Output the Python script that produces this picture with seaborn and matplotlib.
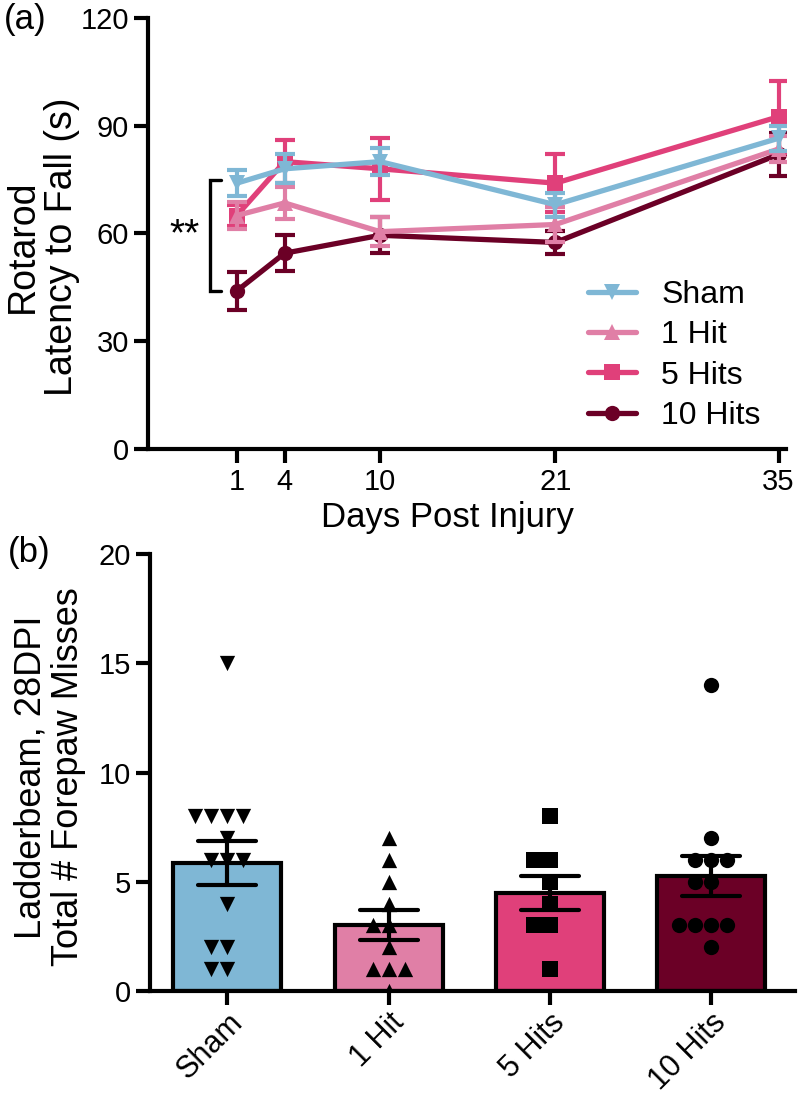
import numpy as np
import pandas as pd
import seaborn as sns
import matplotlib.pyplot as plt

# Rotarod (a): mean +/- SEM per group at each day
days = [1, 4, 10, 21, 35]
sham_mean = [74, 78, 80, 68, 86.5]
sham_sem = [3.6, 4, 3.8, 3.3, 3.5]
hit1_mean = [65, 68.5, 60.5, 62.5, 83.5]
hit1_sem = [3.8, 4.5, 4, 5, 3.5]
hit5_mean = [65, 80, 78, 74, 92.5]
hit5_sem = [3, 6, 8.6, 8, 10]
hit10_mean = [44, 54.5, 59.5, 57.5, 82]
hit10_sem = [5.3, 5, 5, 3.3, 6]

# Ladderbeam (b): individual animals
groups = ['Sham', '1 Hit', '5 Hits', '10 Hits']
sham_pts = [15, 8, 8, 8, 8, 7, 6, 6, 6, 4, 2, 2, 1, 1]
hit1_pts = [7, 6, 5, 4, 3, 3, 2, 1, 1, 1, 0]
hit5_pts = [8, 6, 6, 5, 4, 3, 3, 1]
hit10_pts = [14, 7, 6, 6, 6, 5, 5, 3, 3, 3, 3, 2]

colors = ['#7FB7D5', '#E07FA6', '#E0407A', '#6B0026']
markers = ['v', '^', 's', 'o']

sns.set_style('ticks')
plt.rcParams['font.family'] = ['Liberation Sans', 'DejaVu Sans']
plt.rcParams.update({
    'axes.linewidth': 3, 'axes.edgecolor': 'black',
    'axes.labelcolor': 'black', 'text.color': 'black',
    'xtick.color': 'black', 'ytick.color': 'black',
    'xtick.major.width': 3, 'ytick.major.width': 3,
    'xtick.major.size': 10, 'ytick.major.size': 10,
    'xtick.labelsize': 21, 'ytick.labelsize': 21,
})

fig = plt.figure(figsize=(8, 11.01), dpi=100)
ax1 = fig.add_axes([0.185, 0.5922, 0.7975, 0.3915])
ax2 = fig.add_axes([0.1875, 0.0999, 0.806, 0.3969])

# ---- (a) rotarod ----
means = [sham_mean, hit1_mean, hit5_mean, hit10_mean]
sems = [sham_sem, hit1_sem, hit5_sem, hit10_sem]
for i in [3, 2, 1, 0]:  # 10 Hits drawn first, Sham on top
    ax1.errorbar(days, means[i], yerr=sems[i], fmt='none', ecolor=colors[i],
                 elinewidth=3, capsize=7.5, capthick=3)
    sns.lineplot(x=days, y=means[i], color=colors[i], marker=markers[i],
                 markersize=11, markeredgewidth=0, linewidth=3.8,
                 label=groups[i], ax=ax1)

handles, labels = ax1.get_legend_handles_labels()
order = [labels.index(g) for g in groups]
ax1.legend([handles[k] for k in order], groups, loc='lower right',
           bbox_to_anchor=(0.985, 0.005), frameon=False, fontsize=23,
           handlelength=1.5, handletextpad=0.78, labelspacing=0.32,
           borderpad=0)

# significance bracket
ax1.plot([0, -0.7, -0.7, 0], [75, 75, 44, 44], color='black', lw=2.4,
         solid_joinstyle='miter')
ax1.text(-2.25, 59.5, '**', fontsize=28, ha='center', va='center')

ax1.set_xlim(-4.57, 35.47)
ax1.set_ylim(0, 120)
ax1.set_xticks(days)
ax1.set_yticks([0, 30, 60, 90, 120])
ax1.set_xlabel('Days Post Injury', fontsize=25)
ax1.set_ylabel('Rotarod\nLatency to Fall (s)', fontsize=27, linespacing=1.1)
ax1.xaxis.set_label_coords(0.469, -0.12)
ax1.yaxis.set_label_coords(-0.107, 0.47)
sns.despine(ax=ax1)
fig.text(0.005, 0.997, '(a)', fontsize=25, ha='left', va='top')

# ---- (b) ladderbeam ----
pts = [sham_pts, hit1_pts, hit5_pts, hit10_pts]
df = pd.DataFrame({
    'group': np.repeat(groups, [len(p) for p in pts]),
    'misses': np.concatenate(pts),
})
sns.barplot(data=df, x='group', y='misses', order=groups, hue='group',
            hue_order=groups, palette=colors, legend=False, errorbar='se',
            capsize=0.36, err_kws={'color': 'black', 'linewidth': 3},
            edgecolor='black', linewidth=3, width=0.67, saturation=1, ax=ax2)
for g, p, m in zip(groups, pts, markers):
    sns.swarmplot(x=[g] * len(p), y=p, order=groups, marker=m, color='black',
                  size=11, linewidth=0, ax=ax2)

ax2.set_xlim(-0.48, 3.52)
ax2.set_ylim(0, 20)
ax2.set_yticks([0, 5, 10, 15, 20])
ax2.set_xlabel('')
ax2.set_ylabel('Ladderbeam, 28DPI\nTotal # Forepaw Misses', fontsize=26,
               linespacing=1.1)
ax2.yaxis.set_label_coords(-0.099, 0.49)
ax2.tick_params(axis='x', labelsize=22, pad=2)
plt.setp(ax2.get_xticklabels(), rotation=45, ha='right',
         rotation_mode='anchor')
sns.despine(ax=ax2)
fig.text(0.01, 0.513, '(b)', fontsize=25, ha='left', va='top')

fig.savefig('out.png', dpi=100)
